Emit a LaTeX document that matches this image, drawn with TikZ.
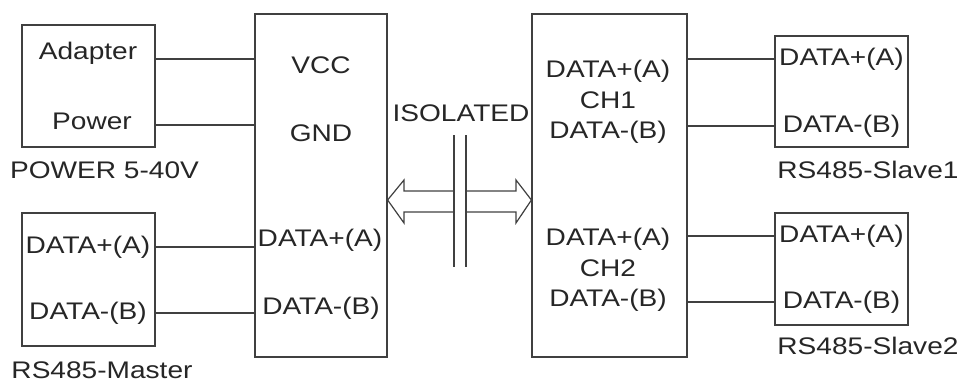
\documentclass[tikz,border=0pt]{standalone}
\usepackage{fontspec}
\setmainfont[FakeStretch=1.17]{Liberation Sans}
\usetikzlibrary{positioning}

\begin{document}
\begin{tikzpicture}%
	[x=0.75pt, y=-0.75pt,
	wire/.style={color=black!75, line width=0.9pt},
	box/.style={draw=black!75, line width=0.9pt, inner sep=0pt},
	lbl/.style={inner sep=0pt, font=\fontsize{18pt}{22.9pt}\selectfont, text=black!85},
	grp/.style={lbl, align=center}]
	%
	\useasboundingbox (0,0) rectangle (964,385);
	%%
	%% Boxes (sizes in pt, 1px = 0.75pt)
	%%
	\node[box, minimum width=99.75pt, minimum height=91.5pt] (pwr) at (88.5, 86) {};
	\node[box, minimum width=99.75pt, minimum height=99.75pt] (master) at (88.5, 279.5) {};
	\node[box, minimum width=99pt, minimum height=257.25pt] (lmain) at (321, 185.5) {};
	\node[box, minimum width=116.25pt, minimum height=257.25pt] (rmain) at (609.5, 185.5) {};
	\node[box, minimum width=99.75pt, minimum height=83.25pt] (slv1) at (841.5, 91.5) {};
	\node[box, minimum width=99.75pt, minimum height=84pt] (slv2) at (841.5, 269) {};
	%%
	%% Texts
	%%
	\node[lbl] (adp) at (88, 53) {Adapter};
	\node[lbl] (pwrtxt) at (92, 121) {Power};
	\node[lbl] (pwrlbl) at (104.5, 170) {POWER 5-40V};
	\node[lbl] (vcc) at (321, 65) {VCC};
	\node[lbl] (gnd) at (321, 133) {GND};
	\node[lbl] (ma) at (88, 247) {DATA+(A)};
	\node[lbl] (mb) at (88, 313) {DATA-(B)};
	\node[lbl] (mlbl) at (102, 370) {RS485-Master};
	\node[lbl] (la) at (320, 240) {DATA+(A)};
	\node[lbl] (lb) at (321, 308) {DATA-(B)};
	\node[lbl] (iso) at (461, 113) {ISOLATED};
	\node[grp] (ch1) at (608, 102) {DATA+(A)\\CH1\\DATA-(B)};
	\node[grp] (ch2) at (608, 270) {DATA+(A)\\CH2\\DATA-(B)};
	\node[lbl] (s1a) at (841.5, 59) {DATA+(A)};
	\node[lbl] (s1b) at (841.5, 126) {DATA-(B)};
	\node[lbl] (s1lbl) at (868, 170) {RS485-Slave1};
	\node[lbl] (s2a) at (841.5, 236) {DATA+(A)};
	\node[lbl] (s2b) at (841.5, 302) {DATA-(B)};
	\node[lbl] (s2lbl) at (868, 346) {RS485-Slave2};
	%%
	%% Wires
	%%
	\draw[wire] (pwr.east |- 0,59) -- (lmain.west |- 0,59);
	\draw[wire] (pwr.east |- 0,125) -- (lmain.west |- 0,125);
	\draw[wire] (ma -| master.east) -- (ma -| lmain.west);
	\draw[wire] (mb -| master.east) -- (mb -| lmain.west);
	\draw[wire] (s1a -| rmain.east) -- (s1a -| slv1.west);
	\draw[wire] (s1b -| rmain.east) -- (s1b -| slv1.west);
	\draw[wire] (s2a -| rmain.east) -- (s2a -| slv2.west);
	\draw[wire] (s2b -| rmain.east) -- (s2b -| slv2.west);
	%%
	%% Isolation barrier and arrows
	%%
	\draw[wire] (454,135) -- (454,267);
	\draw[wire] (466,135) -- (466,267);
	\draw[wire, line join=miter] (454,191) -- (404,191) -- (404,180) -- (lmain.east |- 0,200)
		-- (404,223) -- (404,212) -- (454,212);
	\draw[wire, line join=miter] (466,191) -- (516,191) -- (516,180) -- (rmain.west |- 0,200)
		-- (516,223) -- (516,212) -- (466,212);
\end{tikzpicture}
\end{document}
